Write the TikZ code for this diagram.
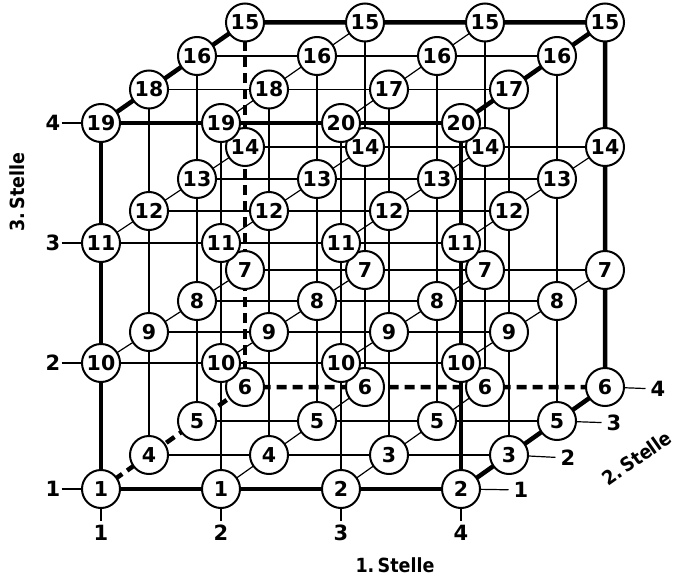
\documentclass[tikz,border=0pt]{standalone}
\usepackage{fontspec}
\setmainfont{DejaVu Sans}
\newfontfamily\condfont{DejaVu Sans Condensed}
\usetikzlibrary{backgrounds}

\tikzset{
  cell/.style={circle, draw, line width=2pt, fill=white, minimum size=38pt,
    inner sep=0pt, font=\bfseries\fontsize{20.5}{20.5}\selectfont},
  axlab/.style={inner sep=2pt, font=\bfseries\fontsize{21}{21}\selectfont},
  axtitle/.style={inner sep=0pt, font=\condfont\bfseries\fontsize{19.5}{19.5}\selectfont},
  gridline/.style={line width=1.2pt},
  cubeedge/.style={line width=4.5pt, line join=round},
  hiddenedge/.style={line width=4.5pt, dash pattern=on 10pt off 6pt},
}

% values of the 4x4x4 cells, ordered by layer, depth, column
\def\cellvals{{1,1,2,2, 4,4,3,3, 5,5,5,5, 6,6,6,6,
  10,10,10,10, 9,9,9,9, 8,8,8,8, 7,7,7,7,
  11,11,11,11, 12,12,12,12, 13,13,13,13, 14,14,14,14,
  19,19,20,20, 18,18,17,17, 16,16,16,16, 15,15,15,15}}

\begin{document}
\begin{tikzpicture}[x=1pt,y=-1pt]
\useasboundingbox (0,0) rectangle (677,578);

% cells: n<column><depth><layer>
\foreach \k/\yf/\s in {1/489/34, 2/363/31, 3/243/32, 4/123/33.5}{
  \foreach \d in {4,3,2,1}{
    \foreach \i in {1,...,4}{
      \pgfmathtruncatemacro\val{\cellvals[(\k-1)*16+(\d-1)*4+\i-1]}
      \node[cell] (n\i\d\k) at ({101+120*(\i-1)+48*(\d-1)},{\yf-\s*(\d-1)}) {\val};
    }
  }
}

\begin{scope}[on background layer]
  % grid lines along the 1st place
  \foreach \k in {1,...,4}{\foreach \d in {1,...,4}{\foreach \i in {1,2,3}{
    \pgfmathtruncatemacro\ii{\i+1}
    \pgfmathtruncatemacro\ext{((\d==1)||(\d==4))&&((\k==1)||(\k==4))}
    \ifnum\ext=0 \draw[gridline] (n\i\d\k.center) -- (n\ii\d\k.center);\fi
  }}}
  % grid lines along the 2nd place
  \foreach \k in {1,...,4}{\foreach \d in {1,2,3}{\foreach \i in {1,...,4}{
    \pgfmathtruncatemacro\dd{\d+1}
    \pgfmathtruncatemacro\ext{((\i==1)||(\i==4))&&((\k==1)||(\k==4))}
    \ifnum\ext=0 \draw[gridline] (n\i\d\k.center) -- (n\i\dd\k.center);\fi
  }}}
  % grid lines along the 3rd place
  \foreach \k in {1,2,3}{\foreach \d in {1,...,4}{\foreach \i in {1,...,4}{
    \pgfmathtruncatemacro\kk{\k+1}
    \pgfmathtruncatemacro\ext{((\i==1)||(\i==4))&&((\d==1)||(\d==4))}
    \ifnum\ext=0 \draw[gridline] (n\i\d\k.center) -- (n\i\d\kk.center);\fi
  }}}
  % visible cube edges
  \draw[cubeedge] (n114.center) -- (n414.center) -- (n411.center) -- (n111.center) -- cycle;
  \draw[cubeedge] (n114.center) -- (n144.center) -- (n444.center) -- (n414.center);
  \draw[cubeedge] (n444.center) -- (n441.center) -- (n411.center);
  % hidden cube edges
  \draw[hiddenedge] (n111.center) -- (n141.center) -- (n441.center);
  \draw[hiddenedge] (n141.center) -- (n144.center);
\end{scope}

% scale of the 1st place
\foreach \i in {1,...,4}{
  \node[axlab] (bx\i) at ({101+120*(\i-1)},533) {\i};
  \draw[gridline, shorten >=2pt] (n\i11) -- (bx\i);
}
% scale of the 3rd place
\foreach \k/\yf in {1/489, 2/363, 3/243, 4/123}{
  \node[axlab] (lz\k) at (53,\yf) {\k};
  \draw[gridline, shorten <=-1pt] (lz\k) -- (n11\k);
}
% scale of the 2nd place
\foreach \d/\xx/\yy in {1/521/490, 2/568/458, 3/614/423, 4/658/389}{
  \node[axlab] (ry\d) at (\xx,\yy) {\d};
  \draw[gridline, shorten >=3pt] (n4\d1) -- (ry\d);
}

\node[axtitle] (t1) at (395,565) {1.\,Stelle};
\node[axtitle, rotate=35] (t2) at (637,458) {2.\,Stelle};
\node[axtitle, rotate=90] (t3) at (17,192) {3.\,Stelle};
\end{tikzpicture}
\end{document}
